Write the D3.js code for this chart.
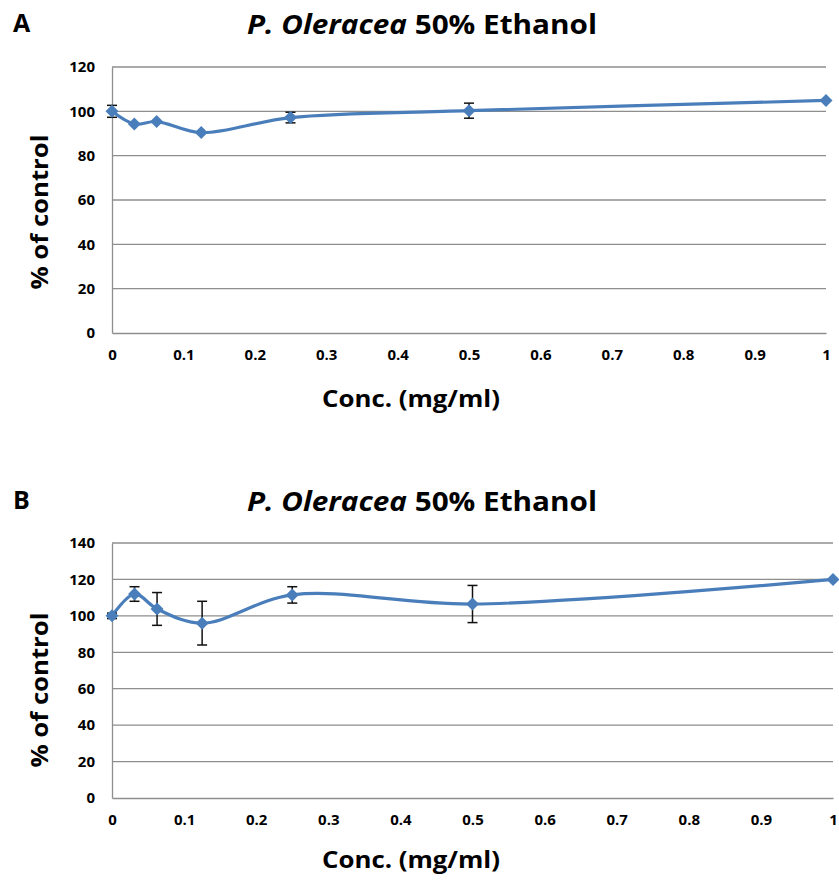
<!DOCTYPE html>
<html>
<head>
<meta charset="utf-8">
<script src="https://cdn.jsdelivr.net/npm/d3@7"></script>
<style>
  body { margin: 0; background: #fff; }
  svg { display: block; font-family: "Open Sans", "Liberation Sans", sans-serif; }
</style>
</head>
<body>
<div id="chart"></div>
<script>
// concentrations (mg/ml) shared by both panels
const conc = [0, 0.03125, 0.0625, 0.125, 0.25, 0.5, 1];

// panel A values and error (SD)
const valuesA = [100, 94.3, 95.4, 90.4, 97.2, 100.3, 104.9];
const errorsA = [2.7, 0, 0, 0, 2.4, 3.4, 0];

// panel B values and error
const valuesB = [100, 112, 103.8, 96, 111.5, 106.5, 120];
const errorsB = [1.5, 4, 9, 12, 4.5, 10.2, 0];

const xTicks = [0, 0.1, 0.2, 0.3, 0.4, 0.5, 0.6, 0.7, 0.8, 0.9, 1];
const yTicksA = [0, 20, 40, 60, 80, 100, 120];
const yTicksB = [0, 20, 40, 60, 80, 100, 120, 140];

const width = 839, height = 884;
const blue = "#4a7ebb";
const grid = "#8e8e8e";

const svg = d3.create("svg").attr("width", width).attr("height", height);

function panel(opt) {
  const g = svg.append("g");
  const x = d3.scaleLinear().domain([0, 1]).range([opt.left, opt.right]);
  const y = d3.scaleLinear().domain([0, opt.ymax]).range([opt.bottom, opt.top]);

  // panel letter
  g.append("text")
    .attr("x", 13).attr("y", opt.letterY)
    .attr("font-size", 25).attr("font-weight", "bold")
    .text(opt.letter);

  // title
  const t = g.append("text")
    .attr("x", 247).attr("y", opt.titleY)
    .attr("font-size", 26).attr("font-weight", "bold")
    .attr("textLength", 350).attr("lengthAdjust", "spacingAndGlyphs");
  t.append("tspan").attr("font-style", "italic").text("P. Oleracea");
  t.append("tspan").text(" 50% Ethanol");

  // gridlines
  g.append("g")
    .selectAll("line")
    .data(opt.yTicks.filter((d) => d > 0))
    .join("line")
    .attr("x1", opt.left).attr("x2", opt.right)
    .attr("y1", (d) => y(d)).attr("y2", (d) => y(d))
    .attr("stroke", grid).attr("stroke-width", 1.3);

  // y axis
  const ya = g.append("g")
    .attr("transform", `translate(${opt.left},0)`)
    .call(d3.axisLeft(y).tickValues(opt.yTicks).tickSize(0).tickPadding(17));
  ya.select(".domain").attr("stroke", grid).attr("stroke-width", 1.3);
  ya.selectAll("text")
    .attr("font-size", 15).attr("font-weight", "bold")
    .attr("font-family", "\"Open Sans\", sans-serif").attr("fill", "#000");

  // x axis
  const xa = g.append("g")
    .attr("transform", `translate(0,${opt.bottom})`)
    .call(d3.axisBottom(x).tickValues(xTicks).tickSize(0).tickPadding(16).tickFormat(d3.format("~g")));
  xa.select(".domain").attr("stroke", grid).attr("stroke-width", 1.3);
  xa.selectAll("text")
    .attr("font-size", 15).attr("font-weight", "bold")
    .attr("font-family", "\"Open Sans\", sans-serif").attr("fill", "#000");

  // axis titles
  g.append("text")
    .attr("x", 411).attr("y", opt.xTitleY)
    .attr("text-anchor", "middle")
    .attr("font-size", 24).attr("font-weight", "bold")
    .attr("textLength", 178).attr("lengthAdjust", "spacingAndGlyphs")
    .text("Conc. (mg/ml)");
  g.append("text")
    .attr("transform", `translate(48,${opt.yTitleC}) rotate(-90)`)
    .attr("text-anchor", "middle")
    .attr("font-size", 24).attr("font-weight", "bold")
    .attr("textLength", 155).attr("lengthAdjust", "spacingAndGlyphs")
    .text("% of control");

  const pts = conc.map((c, i) => ({ c, v: opt.values[i], e: opt.errors[i] }));

  // smoothed line
  const line = d3.line()
    .x((d) => x(d.c)).y((d) => y(d.v))
    .curve(d3.curveCatmullRom.alpha(0.5));
  g.append("path")
    .datum(pts)
    .attr("fill", "none")
    .attr("stroke", blue)
    .attr("stroke-width", 3.2)
    .attr("d", line);

  // error bars
  const eb = g.append("g")
    .selectAll("g")
    .data(pts.filter((d) => d.e > 0))
    .join("g")
    .attr("stroke", "#111").attr("stroke-width", 1.5);
  eb.append("line")
    .attr("x1", (d) => x(d.c)).attr("x2", (d) => x(d.c))
    .attr("y1", (d) => y(d.v + d.e)).attr("y2", (d) => y(d.v - d.e));
  eb.append("line")
    .attr("x1", (d) => x(d.c) - 5).attr("x2", (d) => x(d.c) + 5)
    .attr("y1", (d) => y(d.v + d.e)).attr("y2", (d) => y(d.v + d.e));
  eb.append("line")
    .attr("x1", (d) => x(d.c) - 5).attr("x2", (d) => x(d.c) + 5)
    .attr("y1", (d) => y(d.v - d.e)).attr("y2", (d) => y(d.v - d.e));

  // diamond markers
  g.append("g")
    .selectAll("path")
    .data(pts)
    .join("path")
    .attr("transform", (d) => `translate(${x(d.c)},${y(d.v)})`)
    .attr("d", "M0,-6.5L6.5,0L0,6.5L-6.5,0Z")
    .attr("fill", blue);
}

panel({
  letter: "A", letterY: 32, titleY: 34,
  left: 112, right: 826, top: 67, bottom: 333, ymax: 120,
  yTicks: yTicksA, values: valuesA, errors: errorsA,
  xTitleY: 407, yTitleC: 212
});

panel({
  letter: "B", letterY: 509, titleY: 511,
  left: 112, right: 833, top: 543, bottom: 798, ymax: 140,
  yTicks: yTicksB, values: valuesB, errors: errorsB,
  xTitleY: 868, yTitleC: 690
});

document.getElementById("chart").appendChild(svg.node());
</script>
</body>
</html>
